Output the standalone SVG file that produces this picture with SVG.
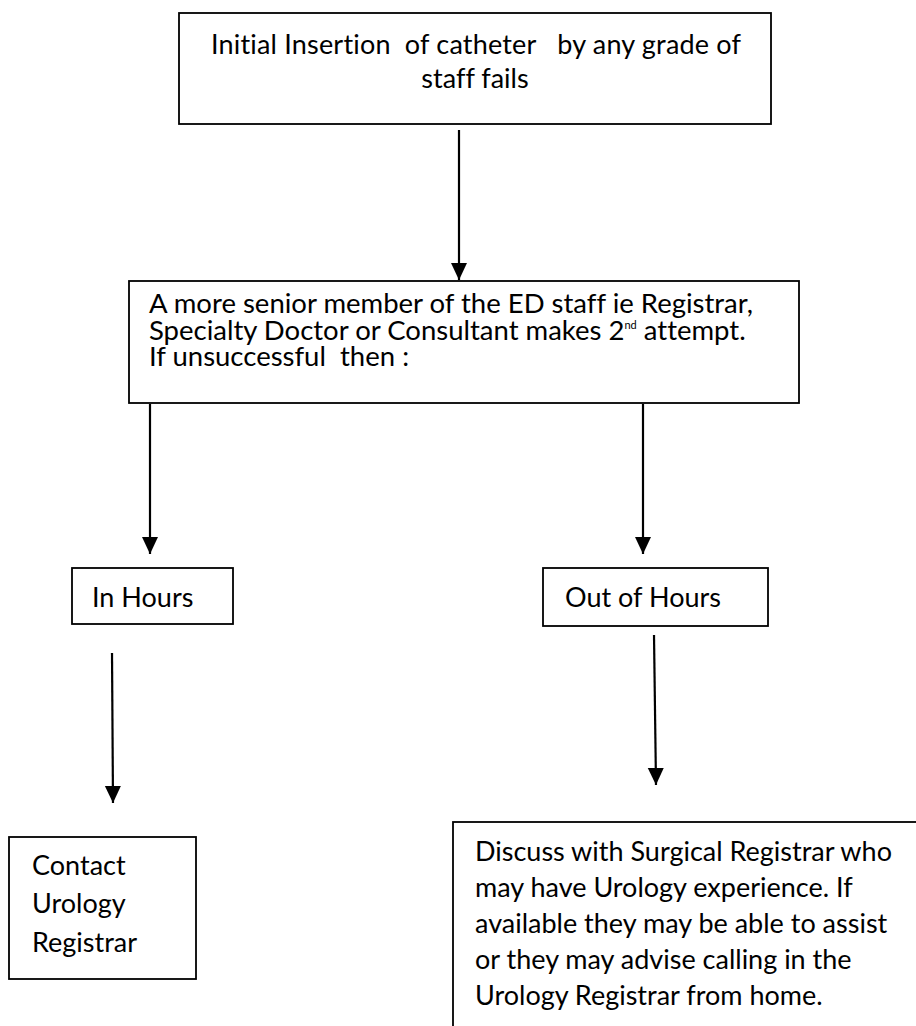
<svg xmlns="http://www.w3.org/2000/svg" width="916" height="1026" viewBox="0 0 916 1026">
<defs>
<style>
.box{fill:#fff;stroke:#000;stroke-width:1.8}
.t{font-family:Lato,"Open Sans","Liberation Sans",sans-serif;font-size:27px;fill:#000;font-variant-ligatures:none;font-feature-settings:"liga" 0,"clig" 0}
.c{stroke:#000;stroke-width:2.2;fill:none}
</style>
<marker id="ah" markerUnits="userSpaceOnUse" markerWidth="18" markerHeight="18" viewBox="0 0 18 18" refX="17" refY="9" orient="auto">
<path d="M0,1 L17,9 L0,17 Z" fill="#000"/>
</marker>
</defs>
<rect width="916" height="1026" fill="#fff"/>
<g id="n1">
<rect class="box" x="179" y="13" width="592" height="111"/>
<text class="t" xml:space="preserve" x="476" y="54" text-anchor="middle" textLength="530" lengthAdjust="spacing">Initial Insertion  of catheter   by any grade of</text>
<text class="t" x="475" y="88" text-anchor="middle">staff fails</text>
</g>
<g id="n2">
<rect class="box" x="129" y="281" width="670" height="122"/>
<text class="t" x="149" y="313" style="font-size:27.5px">A more senior member of the ED staff ie Registrar,</text>
<text class="t" x="149" y="340" style="font-size:27.5px">Specialty Doctor or Consultant makes 2<tspan font-size="11" dy="-11">nd</tspan><tspan dy="11"> attempt.</tspan></text>
<text class="t" xml:space="preserve" x="149" y="366" style="font-size:27.5px">If unsuccessful  then :</text>
</g>
<g id="n3">
<rect class="box" x="72" y="568" width="161" height="56"/>
<text class="t" x="92" y="607">In Hours</text>
</g>
<g id="n4">
<rect class="box" x="543" y="568" width="225" height="58"/>
<text class="t" x="565" y="607">Out of Hours</text>
</g>
<g id="n5">
<rect class="box" x="9" y="837" width="187" height="142"/>
<text class="t" x="32" y="875">Contact</text>
<text class="t" x="32" y="913">Urology</text>
<text class="t" x="32" y="952">Registrar</text>
</g>
<g id="n6">
<rect class="box" x="453" y="822" width="480" height="230"/>
<text class="t" x="475" y="861">Discuss with Surgical Registrar who</text>
<text class="t" x="475" y="897">may have Urology experience. If</text>
<text class="t" x="475" y="933">available they may be able to assist</text>
<text class="t" x="475" y="969">or they may advise calling in the</text>
<text class="t" x="475" y="1005">Urology Registrar from home.</text>
</g>
<g id="connectors">
<line class="c" x1="459" y1="130" x2="459" y2="280" marker-end="url(#ah)"/>
<line class="c" x1="150" y1="404" x2="150" y2="554" marker-end="url(#ah)"/>
<line class="c" x1="643" y1="404" x2="643" y2="554" marker-end="url(#ah)"/>
<line class="c" x1="112" y1="653" x2="113" y2="803" marker-end="url(#ah)"/>
<line class="c" x1="654" y1="635" x2="656" y2="785" marker-end="url(#ah)"/>
</g>
</svg>
